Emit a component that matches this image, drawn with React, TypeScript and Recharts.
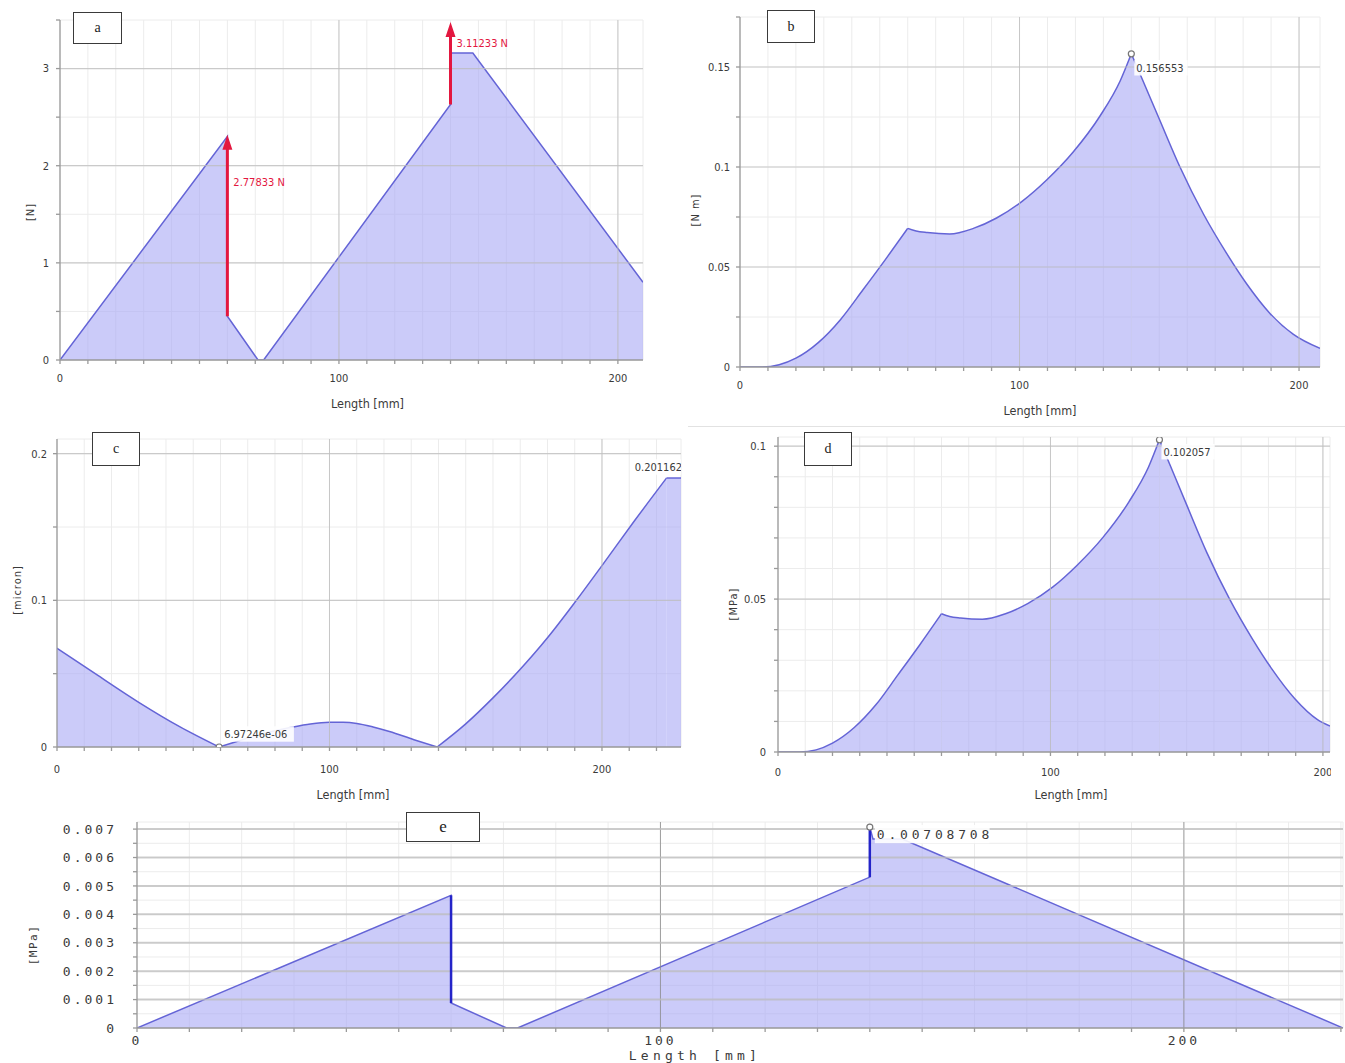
import React from "react"
import { ComposedChart, Area, XAxis, YAxis, CartesianGrid, ReferenceLine, Scatter } from "recharts"

const SANS = "'Liberation Sans Narrow', 'DejaVu Sans Condensed', 'Liberation Sans', Arial, sans-serif"
const MONO = "'DejaVu Sans Mono', 'Liberation Mono', monospace"

const FILL = "#a9a9f5"
const STROKE = "#6464d6"
const MINOR = "#ececec"
const MAJOR = "#bdbdbd"
const AXIS = "#9a9a9a"
const TEXT = "#3a3a3a"
const RED = "#e3173f"

const MM_TICKS = [0, 10, 20, 30, 40, 50, 60, 70, 80, 90, 100, 110, 120, 130, 140, 150, 160, 170, 180, 190, 200, 210, 220, 230]
const MM_MAJOR = [0, 100, 200]

// (a) shear force [N]
const shearX = [0, 60, 60, 71, 73, 140, 140, 148, 209]
const shearN = [0, 2.3, 0.45, 0, 0, 2.63, 3.16, 3.16, 0.8]
const shearYTicks = [0, 0.5, 1, 1.5, 2, 2.5, 3, 3.5]
const shearYMajor = [0, 1, 2, 3]
const loadX = [60, 140]
const loadBase = [0.45, 2.63]
const loadTip = [2.32, 3.48]
const loadText = ["2.77833 N", "3.11233 N"]
const loadTextY = [1.83, 3.26]

// (b) bending moment [N m]
const momentX = [0, 8, 14, 20, 28, 36, 44, 52, 60, 63, 67, 75, 83.5, 91.8, 100.8, 109.7, 119.2, 128.8, 136, 140, 144, 150, 157.4, 165.8, 174.1, 181.3, 189.6, 198, 207.5]
const momentNm = [0, 0, 0.0011, 0.0044, 0.0122, 0.0238, 0.0386, 0.0537, 0.0693, 0.068, 0.0672, 0.0665, 0.0693, 0.0745, 0.0827, 0.0935, 0.1075, 0.1255, 0.143, 0.1566, 0.1436, 0.124, 0.1, 0.0765, 0.0568, 0.0415, 0.0268, 0.0163, 0.0093]
const momentKinks = [60, 140]
const momentYTicks = [0, 0.025, 0.05, 0.075, 0.1, 0.125, 0.15, 0.175]
const momentYMajor = [0, 0.05, 0.1, 0.15]
const momentPeak = { x: 140, y: 0.1566, label: "0.156553" }

// (c) deflection [micron]
const deflX = [0, 15, 30, 45, 59.5, 66, 75, 86, 93, 100, 105, 110, 116, 122, 131, 139.5, 150, 160, 170, 180, 190, 200, 212, 223.7, 229]
const deflUm = [0.0674, 0.0488, 0.0305, 0.0139, 0, 0.0038, 0.0088, 0.0134, 0.0157, 0.0168, 0.0168, 0.0161, 0.0137, 0.0106, 0.005, 0, 0.0158, 0.0335, 0.053, 0.0745, 0.0985, 0.1237, 0.1544, 0.1834, 0.1834]
const deflKinks = [59.5, 139.5, 223.7]
const deflYTicks = [0, 0.05, 0.1, 0.15, 0.2]
const deflYMajor = [0, 0.1, 0.2]
const deflMin = { x: 59.5, y: 0, label: "6.97246e-06" }
const deflMax = { x: 229, y: 0.1834, label: "0.201162" }

// (d) bending stress [MPa]
const stressX = [0, 8, 14, 20, 28, 36, 44, 52, 60, 63, 67, 75, 83.5, 91.8, 100.8, 109.7, 119.2, 128.8, 136, 140, 144, 150, 157.4, 165.8, 174.1, 181.3, 189.6, 198, 202.6]
const stressMPa = [0, 0, 0.0007, 0.0029, 0.008, 0.0155, 0.0252, 0.035, 0.0452, 0.0443, 0.0438, 0.0434, 0.0452, 0.0486, 0.0539, 0.061, 0.0701, 0.0818, 0.0932, 0.1021, 0.0936, 0.0808, 0.0652, 0.0499, 0.037, 0.0271, 0.0175, 0.0106, 0.0085]
const stressKinks = [60, 140]
const stressYTicks = [0, 0.01, 0.02, 0.03, 0.04, 0.05, 0.06, 0.07, 0.08, 0.09, 0.1]
const stressYMajor = [0, 0.05, 0.1]
const stressPeak = { x: 140, y: 0.1021, label: "0.102057" }

// (e) shear stress [MPa]
const tauX = [0, 60, 60, 70.6, 72.7, 140, 140, 140.6, 146.2, 230.4]
const tauMPa = [0, 0.00467, 0.00088, 0, 0, 0.00531, 0.00707, 0.00665, 0.00665, 0]
const tauYTicks = [0, 0.0005, 0.001, 0.0015, 0.002, 0.0025, 0.003, 0.0035, 0.004, 0.0045, 0.005, 0.0055, 0.006, 0.0065, 0.007]
const tauYMajor = [0, 0.001, 0.002, 0.003, 0.004, 0.005, 0.006, 0.007]
const jumpX = [60, 140]
const jumpLow = [0.00088, 0.00531]
const jumpHigh = [0.00467, 0.00707]
const tauPeak = { x: 140, y: 0.00707, label: "0.00708708" }

const toRows = (xs: number[], ys: number[]) => xs.map((x, i) => ({ x, y: ys[i] }))

// split a curve at its kinks so each piece gets its own smooth interpolation
const toSegments = (xs: number[], ys: number[], kinks: number[]) =>
    xs.map((x, i) => {
        const row: Record<string, number | null> = { x }
        for (let s = 0; s <= kinks.length; s++) row[`s${s}`] = null
        const seg = kinks.filter((k) => x > k).length
        row[`s${seg}`] = ys[i]
        if (kinks.includes(x)) row[`s${seg + 1}`] = ys[i]
        return row
    })

const pick = (list: number[]) => (v: number) => {
    const hit = list.find((m) => Math.abs(m - v) < 1e-9)
    return hit === undefined ? "" : String(hit)
}

function Tag({ cx, cy, text, dx, dy, anchor = "start", marker = false, font = SANS, size = 11, spacing = 0 }: any) {
    const w = text.length * (size * 0.56 + spacing) + 4
    const tx = cx + dx
    const bx = anchor === "start" ? tx - 2 : tx - w + 2
    return (
        <g>
            {marker && <circle cx={cx} cy={cy} r={3} fill="#fff" stroke="#777" strokeWidth={1.2} />}
            <rect x={bx} y={cy + dy - size * 0.7} width={w} height={size * 1.4} fill="#fff" fillOpacity={0.9} />
            <text x={tx} y={cy + dy} dy="0.35em" textAnchor={anchor} fontFamily={font} fontSize={size} letterSpacing={spacing} fill={TEXT}>
                {text}
            </text>
        </g>
    )
}

interface PanelProps {
    left: number
    top: number
    width: number
    height: number
    margin: { top: number; right: number; left: number; bottom: number }
    data: any[]
    yWidth: number
    xHeight: number
    xMax: number
    yMax: number
    yTicks: number[]
    yMajor: number[]
    yTitle: string
    yTitleDx: number
    yTitleDy: number
    xTitleDx: number
    xTitleDy: number
    xTickMargin: number
    yTickMargin: number
    mono?: boolean
    majorWidth?: number
    majorXStroke?: string
    children?: React.ReactNode
}

function Panel(p: PanelProps) {
    const font = p.mono ? MONO : SANS
    const tickStyle = p.mono
        ? { fill: TEXT, fontSize: 13, fontFamily: font, letterSpacing: 3 }
        : { fill: TEXT, fontSize: 11, fontFamily: font }
    const titleStyle = p.mono
        ? { fill: TEXT, fontSize: 13, fontFamily: font, letterSpacing: 4.2 }
        : { fill: TEXT, fontSize: 12.5, fontFamily: font }
    const yTitleStyle = p.mono
        ? { fill: TEXT, fontSize: 11, fontFamily: font, letterSpacing: 1.5 }
        : { fill: TEXT, fontSize: 11, fontFamily: font, letterSpacing: 1 }
    return (
        <div style={{ position: "absolute", left: p.left, top: p.top, width: p.width, height: p.height }}>
            <ComposedChart width={p.width} height={p.height} data={p.data} margin={p.margin}>
                <CartesianGrid stroke={MINOR} />
                {MM_MAJOR.filter((v) => v > 0 && v <= p.xMax).map((v) => (
                    <ReferenceLine key={`vx${v}`} x={v} stroke={p.majorXStroke || MAJOR} strokeOpacity={0.8} />
                ))}
                {p.yMajor.filter((v) => v > 0).map((v) => (
                    <ReferenceLine key={`hy${v}`} y={v} stroke={MAJOR} strokeOpacity={0.75} strokeWidth={p.majorWidth || 1.2} />
                ))}
                <XAxis
                    type="number"
                    dataKey="x"
                    domain={[0, p.xMax]}
                    allowDataOverflow
                    ticks={MM_TICKS.filter((t) => t <= p.xMax)}
                    interval={0}
                    tickFormatter={pick(MM_MAJOR)}
                    height={p.xHeight}
                    tickSize={4}
                    tickMargin={p.xTickMargin}
                    stroke={AXIS}
                    strokeWidth={1.3}
                    tick={tickStyle}
                    label={{ value: "Length [mm]", position: "center", dx: p.xTitleDx, dy: p.xTitleDy, ...titleStyle }}
                />
                <YAxis
                    type="number"
                    domain={[0, p.yMax]}
                    allowDataOverflow
                    ticks={p.yTicks}
                    interval={0}
                    tickFormatter={pick(p.yMajor)}
                    width={p.yWidth}
                    tickSize={4}
                    tickMargin={p.yTickMargin}
                    stroke={AXIS}
                    strokeWidth={1.3}
                    tick={tickStyle}
                    label={{ value: p.yTitle, angle: -90, position: "center", dx: p.yTitleDx, dy: p.yTitleDy, ...yTitleStyle }}
                />
                {p.children}
            </ComposedChart>
        </div>
    )
}

function segmentAreas(count: number) {
    return Array.from({ length: count }, (_, s) => (
        <Area
            key={`s${s}`}
            type="monotone"
            dataKey={`s${s}`}
            stroke={STROKE}
            strokeWidth={1.5}
            fill={FILL}
            fillOpacity={0.6}
            dot={false}
            activeDot={false}
            isAnimationActive={false}
        />
    ))
}

function LetterBox({ left, top, width, height, letter, size = 14 }: any) {
    return (
        <div
            style={{
                position: "absolute",
                left,
                top,
                width,
                height,
                boxSizing: "border-box",
                border: "1.5px solid #3a3a3a",
                background: "#fff",
                display: "flex",
                alignItems: "center",
                justifyContent: "center",
                fontFamily: "'Liberation Serif', 'DejaVu Serif', serif",
                fontSize: size,
                color: "#222",
            }}
        >
            {letter}
        </div>
    )
}

export default function App() {
    const loadArrows = loadX.map((x, i) => ({ x, y: loadTip[i] }))
    const loadLabels = loadX.map((x, i) => ({ x, y: loadTextY[i], label: loadText[i] }))

    return (
        <div style={{ position: "absolute", left: 0, top: 0, width: 1345, height: 1063, background: "#fff", overflow: "hidden" }}>
            {/* a */}
            <Panel
                left={0}
                top={0}
                width={660}
                height={420}
                margin={{ top: 20, right: 17, left: 20, bottom: 10 }}
                data={toRows(shearX, shearN)}
                yWidth={40}
                xHeight={50}
                xMax={209}
                yMax={3.5}
                yTicks={shearYTicks}
                yMajor={shearYMajor}
                yTitle="[N]"
                yTitleDx={-10}
                yTitleDy={22}
                xTitleDx={16}
                xTitleDy={19}
                xTickMargin={10}
                yTickMargin={7}
            >
                <Area type="linear" dataKey="y" stroke={STROKE} strokeWidth={1.5} fill={FILL} fillOpacity={0.6} dot={false} activeDot={false} isAnimationActive={false} />
                {loadX.map((x, i) => (
                    <ReferenceLine key={`load${i}`} segment={[{ x, y: loadBase[i] }, { x, y: loadTip[i] - 0.1 }]} stroke={RED} strokeWidth={3} />
                ))}
                <Scatter
                    data={loadArrows}
                    dataKey="y"
                    isAnimationActive={false}
                    shape={(s: any) => <path d={`M${s.cx},${s.cy} L${s.cx - 5},${s.cy + 15} L${s.cx + 5},${s.cy + 15} Z`} fill={RED} />}
                />
                <Scatter
                    data={loadLabels}
                    dataKey="y"
                    isAnimationActive={false}
                    shape={(s: any) => (
                        <text x={s.cx + 6} y={s.cy} dy="0.35em" fontFamily={SANS} fontSize={11} fill={RED}>
                            {s.payload?.label}
                        </text>
                    )}
                />
            </Panel>

            {/* b */}
            <Panel
                left={680}
                top={0}
                width={665}
                height={425}
                margin={{ top: 17, right: 25, left: 15, bottom: 8 }}
                data={toSegments(momentX, momentNm, momentKinks)}
                yWidth={45}
                xHeight={50}
                xMax={207.5}
                yMax={0.175}
                yTicks={momentYTicks}
                yMajor={momentYMajor}
                yTitle="[N m]"
                yTitleDx={-22.5}
                yTitleDy={18}
                xTitleDx={10}
                xTitleDy={19}
                xTickMargin={10}
                yTickMargin={6}
            >
                {segmentAreas(momentKinks.length + 1)}
                <Scatter
                    data={[momentPeak]}
                    dataKey="y"
                    isAnimationActive={false}
                    shape={(s: any) => <Tag cx={s.cx} cy={s.cy} text={s.payload?.label} dx={5} dy={14} marker />}
                />
            </Panel>

            {/* c */}
            <Panel
                left={0}
                top={425}
                width={700}
                height={385}
                margin={{ top: 14, right: 19, left: 12, bottom: 13 }}
                data={toSegments(deflX, deflUm, deflKinks)}
                yWidth={45}
                xHeight={50}
                xMax={229}
                yMax={0.21}
                yTicks={deflYTicks}
                yMajor={deflYMajor}
                yTitle="[micron]"
                yTitleDx={-17.5}
                yTitleDy={-3}
                xTitleDx={-16}
                xTitleDy={23}
                xTickMargin={14}
                yTickMargin={6}
            >
                {segmentAreas(deflKinks.length + 1)}
                <Scatter
                    data={[deflMin]}
                    dataKey="y"
                    isAnimationActive={false}
                    shape={(s: any) => <Tag cx={s.cx} cy={s.cy} text={s.payload?.label} dx={5} dy={-13} marker />}
                />
                <Scatter
                    data={[deflMax]}
                    dataKey="y"
                    isAnimationActive={false}
                    shape={(s: any) => <Tag cx={s.cx} cy={s.cy} text={s.payload?.label} dx={1} dy={-11} anchor="end" />}
                />
            </Panel>

            {/* d */}
            <Panel
                left={700}
                top={425}
                width={631}
                height={385}
                margin={{ top: 12, right: 1, left: 33, bottom: 8 }}
                data={toSegments(stressX, stressMPa, stressKinks)}
                yWidth={45}
                xHeight={50}
                xMax={202.6}
                yMax={0.103}
                yTicks={stressYTicks}
                yMajor={stressYMajor}
                yTitle="[MPa]"
                yTitleDx={-22.5}
                yTitleDy={9.5}
                xTitleDx={17}
                xTitleDy={18}
                xTickMargin={12}
                yTickMargin={8}
            >
                {segmentAreas(stressKinks.length + 1)}
                <Scatter
                    data={[stressPeak]}
                    dataKey="y"
                    isAnimationActive={false}
                    shape={(s: any) => <Tag cx={s.cx} cy={s.cy} text={s.payload?.label} dx={4} dy={12} marker />}
                />
            </Panel>

            {/* e */}
            <Panel
                left={0}
                top={810}
                width={1345}
                height={253}
                margin={{ top: 12, right: 2, left: 17, bottom: 0 }}
                data={toRows(tauX, tauMPa)}
                yWidth={120}
                xHeight={35}
                xMax={230.4}
                yMax={0.00725}
                yTicks={tauYTicks}
                yMajor={tauYMajor}
                yTitle="[MPa]"
                yTitleDx={-44}
                yTitleDy={20}
                xTitleDx={-45}
                xTitleDy={9.5}
                xTickMargin={4}
                yTickMargin={16}
                mono
                majorWidth={2}
                majorXStroke="#8a8a8a"
            >
                <Area type="linear" dataKey="y" stroke={STROKE} strokeWidth={1.5} fill={FILL} fillOpacity={0.6} dot={false} activeDot={false} isAnimationActive={false} />
                {jumpX.map((x, i) => (
                    <ReferenceLine key={`jump${i}`} segment={[{ x, y: jumpLow[i] }, { x, y: jumpHigh[i] }]} stroke="#2424c8" strokeWidth={2.5} />
                ))}
                <Scatter
                    data={[tauPeak]}
                    dataKey="y"
                    isAnimationActive={false}
                    shape={(s: any) => <Tag cx={s.cx} cy={s.cy} text={s.payload?.label} dx={7} dy={7} marker font={MONO} size={13} spacing={3.8} />}
                />
            </Panel>

            <div style={{ position: "absolute", left: 688, top: 426, width: 657, height: 1, background: "#e2e2e2" }} />

            <LetterBox left={73} top={12} width={49} height={32} letter="a" />
            <LetterBox left={767} top={10} width={48} height={33} letter="b" />
            <LetterBox left={92} top={432} width={48} height={34} letter="c" />
            <LetterBox left={804} top={432} width={48} height={34} letter="d" />
            <LetterBox left={406} top={812} width={74} height={30} letter="e" size={17} />
        </div>
    )
}
